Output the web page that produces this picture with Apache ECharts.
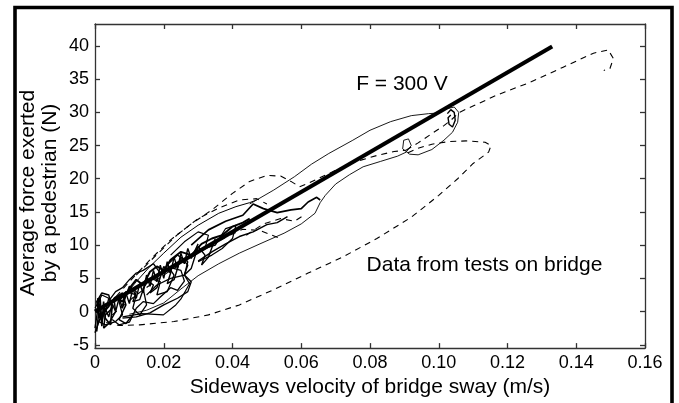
<!DOCTYPE html>
<html>
<head>
<meta charset="utf-8">
<script src="https://cdn.jsdelivr.net/npm/echarts@6/dist/echarts.min.js"></script>
<style>
html,body{margin:0;padding:0;background:#fff;}
#c{width:679px;height:403px;}
</style>
</head>
<body>
<div id="c"></div>
<script>
// ---- axis ticks ----
const xTicks = [0, 0.02, 0.04, 0.06, 0.08, 0.10, 0.12, 0.14, 0.16];
const yTicks = [-5, 0, 5, 10, 15, 20, 25, 30, 35, 40];

// ---- fitted line F = 300 V ----
const fitLine = [[0, 0], [0.133, 39.9]];

// ---- dashed traces ----
const dashOuter = [[0.001,-0.5],[0.003,-1.6],[0.007,-2.1],[0.013,-2.0],[0.023,-1.5],[0.033,-0.5],[0.042,1.0],[0.052,3.3],[0.062,5.8],[0.072,8.2],[0.082,11.0],[0.092,14.2],[0.100,17.5],[0.1055,20.0],[0.110,22.3],[0.1145,24.0],[0.1152,25.0],[0.1135,25.5],[0.108,25.7],[0.103,25.6],[0.098,25.2],[0.094,24.6],[0.091,23.9]];
const dashUpper = [[0.0905,24.3],[0.094,25.4],[0.098,26.8],[0.1015,28.0],[0.1035,28.8],[0.106,30.0],[0.1169,32.6],[0.1265,34.5],[0.1362,36.8],[0.145,38.9],[0.1493,39.4],[0.1508,38.1],[0.1498,36.6],[0.148,36.3]];
const dashLeft = [[0.004,1.0],[0.010,4.5],[0.016,7.8],[0.022,10.8],[0.028,13.2],[0.034,15.3],[0.040,17.8],[0.045,19.6],[0.050,20.5],[0.054,20.4],[0.057,19.6],[0.0595,18.8],[0.062,19.3],[0.066,20.3],[0.071,21.5],[0.076,22.6],[0.082,23.5],[0.087,24.1],[0.0905,24.3]];
const dashMid = [[0.005,-0.5],[0.012,2.5],[0.020,5.5],[0.030,8.8],[0.038,11.2],[0.043,12.4],[0.048,12.2],[0.054,11.0]];
const dashMid2 = [[0.012,5.5],[0.018,8.6],[0.024,11.6],[0.030,14.0],[0.036,15.6],[0.042,16.8],[0.047,17.0],[0.050,16.2]];
const dashMid3 = [[0.044,11.5],[0.049,13.2],[0.054,14.0],[0.058,13.6],[0.061,14.6]];

// ---- solid thin traces ----
const solidUpper = [[0.045,16.2],[0.052,18.3],[0.058,20.3],[0.063,22.2],[0.068,23.8],[0.075,25.8],[0.080,27.3],[0.086,28.6],[0.092,29.5],[0.097,29.8],[0.100,29.9],[0.102,30.5],[0.1045,30.8],[0.1058,30.0],[0.1055,28.5],[0.104,27.0],[0.1015,25.8],[0.098,24.4],[0.094,23.6],[0.0915,23.7],[0.0895,24.5],[0.0898,25.8],[0.0912,26.0],[0.092,25.0],[0.0905,24.0],[0.088,23.4],[0.083,22.6],[0.078,21.8],[0.074,20.6],[0.070,19.2],[0.067,17.5],[0.0655,16.4],[0.064,14.8],[0.060,13.2],[0.055,11.8],[0.048,10.2],[0.042,8.8],[0.036,7.2],[0.030,5.4],[0.025,3.4],[0.020,1.3],[0.015,0.2],[0.010,-0.4]];
const solidLoop104 = [[0.1025,29.8],[0.1035,30.4],[0.1045,30.0],[0.1048,28.8],[0.104,27.8],[0.103,28.2],[0.1027,29.2],[0.1035,29.6]];
const solidWiggle = [[0.028,10.0],[0.033,12.3],[0.038,13.6],[0.043,14.5],[0.046,16.2],[0.049,15.5],[0.053,14.9],[0.057,15.3],[0.060,15.5],[0.062,16.5],[0.0645,17.2],[0.0655,16.8]];
const solidEnvelope = [[0.008,2.0],[0.012,4.5],[0.016,6.8],[0.020,8.8],[0.025,11.2],[0.030,13.0],[0.036,14.8],[0.041,15.8],[0.045,16.4],[0.047,16.8]];
const solidLower = [[0.008,-0.8],[0.0136,-0.3],[0.0199,-0.5],[0.0235,1.0],[0.025,1.9],[0.0275,4.2],[0.026,5.5],[0.022,5.0],[0.018,4.0],[0.015,2.5]];
const solidMidLow = [[0.030,7.6],[0.034,9.0],[0.038,10.2],[0.042,11.3],[0.046,12.0],[0.050,13.1],[0.053,13.4],[0.056,14.3]];

// ---- heavy scribbles near the origin ----
const clusterA = [[0.000,-2.5],[0.001,1.0],[0.0015,2.2],[0.002,-1.5],[0.003,0.5],[0.004,-0.8],[0.005,1.2],[0.006,0.0],[0.007,2.0],[0.008,0.5],[0.009,2.8],[0.010,1.2],[0.011,3.5],[0.012,2.0],[0.013,4.2],[0.014,2.8],[0.015,5.5],[0.016,3.8],[0.017,6.2],[0.018,4.5],[0.019,7.0],[0.020,5.0],[0.021,7.5],[0.022,5.8],[0.023,8.2],[0.024,6.5],[0.025,8.8],[0.026,7.2],[0.027,9.5],[0.028,8.0],[0.030,10.2]];
const clusterB = [[0.0,0.5],[0.002,2.5],[0.004,2.0],[0.003,0.0],[0.001,-1.5],[0.003,-2.0],[0.006,-1.5],[0.008,-0.5],[0.007,1.5],[0.009,3.0],[0.012,2.5],[0.011,0.5],[0.013,-0.5],[0.015,1.0],[0.014,3.5],[0.016,5.0],[0.019,4.5],[0.018,2.5],[0.021,3.0],[0.023,5.5],[0.021,7.0],[0.024,8.5],[0.027,7.5],[0.026,5.5],[0.028,4.5],[0.027,3.0],[0.024,2.0],[0.020,1.0],[0.016,-0.2],[0.012,-0.8],[0.008,-1.0]];
const clusterC = [[0.001,-1.0],[0.004,0.8],[0.006,2.2],[0.008,1.5],[0.010,3.5],[0.012,4.8],[0.014,4.0],[0.016,6.0],[0.018,6.8],[0.020,6.2],[0.022,7.8],[0.025,9.0],[0.028,8.5],[0.031,10.2],[0.034,11.0],[0.037,11.5],[0.040,12.8],[0.043,13.4],[0.045,14.0]];
const clusterD = [[0.0005,-3.0],[0.001,-0.5],[0.0008,2.0],[0.0015,0.5],[0.002,-2.2],[0.0025,1.5],[0.003,-1.0],[0.0045,-2.0],[0.005,0.8]];
const clusterE = [[0.008,1.0],[0.010,3.8],[0.012,3.0],[0.011,1.5],[0.013,1.8],[0.015,4.8],[0.017,4.0],[0.016,2.8],[0.018,3.6],[0.020,6.8],[0.022,5.8],[0.021,4.2],[0.023,4.8],[0.025,8.2],[0.027,7.0],[0.026,5.5],[0.028,6.5],[0.030,9.8],[0.032,8.5],[0.031,7.0],[0.033,8.2],[0.035,11.0]];
const clusterF = [[0.0,-3.2],[0.0015,-1.0],[0.0005,1.5],[0.002,2.8],[0.004,2.5],[0.005,0.5],[0.003,-0.5],[0.0025,-2.5],[0.004,-1.8],[0.006,0.0],[0.0055,2.0],[0.008,2.8],[0.009,1.0],[0.007,-1.2],[0.009,-1.8],[0.011,-0.5]];
const clusterG = [[0.022,8.5],[0.026,10.5],[0.030,12.0],[0.033,11.5],[0.032,9.5],[0.035,10.0],[0.038,12.5],[0.041,13.0],[0.040,11.0],[0.037,9.5],[0.034,8.5],[0.030,7.5]];
const clusterH = [[0.005,-1.2],[0.007,-2.0],[0.010,-1.6],[0.012,0.5],[0.014,1.5],[0.017,1.2],[0.019,2.2],[0.022,3.6],[0.024,3.2],[0.026,4.6],[0.025,6.2],[0.022,6.6],[0.019,5.8],[0.017,7.2],[0.014,6.2],[0.012,5.8],[0.010,4.8],[0.008,3.6],[0.006,3.0],[0.004,1.6]];

// ---- annotations ----
const annotations = [
  { text: 'F = 300 V', x: 0.0893, y: 34.2 },
  { text: 'Data from tests on bridge', x: 0.1133, y: 7.0 }
];
const xTitle = 'Sideways velocity of bridge sway (m/s)';
const yTitle = 'Average force exerted\nby a pedestrian (N)';

const FONT = '"Liberation Sans", Arial, Helvetica, sans-serif';
const chart = echarts.init(document.getElementById('c'), null, { renderer: 'canvas' });

function line(data, opts) {
  return Object.assign({
    type: 'line', data: data, showSymbol: false, symbol: 'none', silent: true,
    animation: false, clip: true, z: 2,
    lineStyle: { color: '#000', width: 1, type: 'solid' }
  }, opts || {});
}
const dash = { color: '#000', width: 1.1, type: [6, 5] };
const solid = w => ({ lineStyle: { color: '#000', width: w } });

const axisLineStyle = { color: '#333', width: 1.3 };
const option = {
  animation: false,
  backgroundColor: '#fff',
  grid: { left: 95, right: 34, top: 24, bottom: 50, containLabel: false },
  xAxis: [
    {
      type: 'value', min: 0, max: 0.16, interval: 0.02, position: 'bottom',
      axisLine: { show: true, onZero: false, lineStyle: axisLineStyle },
      axisTick: { show: true, inside: true, length: 5, lineStyle: axisLineStyle },
      splitLine: { show: false },
      axisLabel: {
        fontFamily: FONT, fontSize: 18, color: '#000', margin: 6,
        formatter: v => (Math.abs(v) < 1e-9 ? '0' : v.toFixed(2))
      },
      name: xTitle, nameLocation: 'middle', nameGap: 27,
      nameTextStyle: { fontFamily: FONT, fontSize: 21, color: '#000' }
    },
    {
      type: 'value', min: 0, max: 0.16, interval: 0.02, position: 'top',
      axisLine: { show: true, onZero: false, lineStyle: axisLineStyle },
      axisTick: { show: true, inside: true, length: 5, lineStyle: axisLineStyle },
      axisLabel: { show: false }, splitLine: { show: false }
    }
  ],
  yAxis: [
    {
      type: 'value', min: -5.5, max: 43.3, position: 'left',
      axisLine: { show: true, onZero: false, lineStyle: axisLineStyle },
      axisTick: { show: true, inside: true, length: 5, lineStyle: axisLineStyle, customValues: yTicks },
      splitLine: { show: false },
      axisLabel: { fontFamily: FONT, fontSize: 18, color: '#000', margin: 6, customValues: yTicks }
    },
    {
      type: 'value', min: -5.5, max: 43.3, position: 'right',
      axisLine: { show: true, onZero: false, lineStyle: axisLineStyle },
      axisTick: { show: true, inside: true, length: 5, lineStyle: axisLineStyle, customValues: yTicks },
      axisLabel: { show: false, customValues: yTicks }, splitLine: { show: false }
    }
  ],
  series: [
    line(dashOuter, { lineStyle: dash }),
    line(dashUpper, { lineStyle: dash }),
    line(dashLeft, { lineStyle: dash }),
    line(dashMid, { lineStyle: dash }),
    line(dashMid2, { lineStyle: dash }),
    line(dashMid3, { lineStyle: dash }),
    line(solidUpper, solid(0.9)),
    line(solidLoop104, solid(1.4)),
    line(solidWiggle, solid(1.7)),
    line(solidEnvelope, solid(1.0)),
    line(solidLower, solid(1.2)),
    line(solidMidLow, solid(1.4)),
    line(clusterA, solid(1.4)),
    line(clusterB, solid(1.3)),
    line(clusterC, solid(1.9)),
    line(clusterD, solid(1.6)),
    line(clusterE, solid(1.4)),
    line(clusterF, solid(1.5)),
    line(clusterG, solid(1.2)),
    line(clusterH, solid(1.3)),
    line(fitLine, { lineStyle: { color: '#000', width: 4 }, z: 5 })
  ]
};
chart.setOption(option);

const texts = annotations.map(a => {
  const p = chart.convertToPixel({ xAxisIndex: 0, yAxisIndex: 0 }, [a.x, a.y]);
  return {
    type: 'text', x: p[0], y: p[1], z: 10,
    style: { text: a.text, fontFamily: FONT, fontSize: 21, fill: '#000', align: 'center', verticalAlign: 'middle' }
  };
});
chart.setOption({
  graphic: [
    { type: 'rect', z: 20, shape: { x: 15, y: 7.5, width: 657, height: 460 },
      style: { fill: 'none', stroke: '#000', lineWidth: 3.6 } },
    { type: 'text', x: 39, y: 193, rotation: Math.PI / 2, z: 10,
      style: { text: yTitle, fontFamily: FONT, fontSize: 21, lineHeight: 22, fill: '#000', align: 'center', verticalAlign: 'middle' } }
  ].concat(texts)
});
</script>
</body>
</html>
